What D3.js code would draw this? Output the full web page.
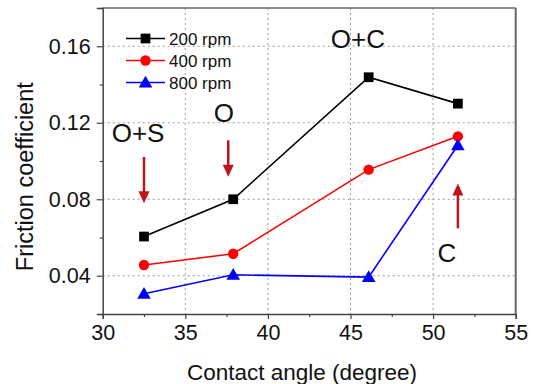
<!DOCTYPE html>
<html>
<head>
<meta charset="utf-8">
<script src="https://cdn.jsdelivr.net/npm/d3@7"></script>
<style>
  html, body { margin: 0; padding: 0; background: #fff; }
  svg { display: block; font-family: "Liberation Sans", Arial, sans-serif; }
</style>
</head>
<body>
<svg id="chart" width="534" height="384"></svg>
<script>
// ---- data ----
const contactAngle = [32.5, 37.9, 46.1, 51.5];
const rpm200 = [0.0605, 0.080, 0.1438, 0.130];
const rpm400 = [0.0456, 0.0515, 0.0955, 0.1129];
const rpm800 = [0.0306, 0.0405, 0.0393, 0.1082];
const seriesNames = ["200 rpm", "400 rpm", "800 rpm"];
const xTicks = [30, 35, 40, 45, 50, 55];
const xMinorTicks = [32.5, 37.5, 42.5, 47.5, 52.5];
const yTicks = [0.04, 0.08, 0.12, 0.16];
const yMinorTicks = [0.02, 0.06, 0.10, 0.14, 0.18];
const annotations = [
  { text: "O+S", x: 32.14, y: 0.1101 },
  { text: "O", x: 37.34, y: 0.1206 },
  { text: "O+C", x: 45.45, y: 0.1589 },
  { text: "C", x: 50.84, y: 0.0473 }
];
const arrows = [
  { x: 32.5, from: 0.1021, to: 0.0779 },
  { x: 37.6, from: 0.1108, to: 0.0917 },
  { x: 51.5, from: 0.0648, to: 0.0883 }
];

// ---- layout ----
const svg = d3.select("#chart");
const margin = { left: 102.7, right: 18.3, top: 8, bottom: 70 };
const W = 534, H = 384;
const x = d3.scaleLinear().domain([30, 55]).range([margin.left, W - margin.right]);
const y = d3.scaleLinear().domain([0.02, 0.18]).range([H - margin.bottom, margin.top]);

const colors = ["#000000", "#ff0000", "#0000ff"];
const seriesData = [rpm200, rpm400, rpm800];
const symbols = [d3.symbolSquare, d3.symbolCircle, d3.symbolTriangle];
const symSizes = [95, 85, 80];

// gridlines
const grid = svg.append("g").attr("stroke", "#9a9a9a").attr("stroke-width", 1).attr("stroke-dasharray", "2,3").attr("fill", "none");
xTicks.slice(1, -1).forEach(t => {
  grid.append("line").attr("x1", x(t)).attr("x2", x(t)).attr("y1", y.range()[1]).attr("y2", y.range()[0]);
});
yTicks.forEach(t => {
  grid.append("line").attr("x1", x.range()[0]).attr("x2", x.range()[1]).attr("y1", y(t)).attr("y2", y(t));
});

// frame top & right
svg.append("line").attr("x1", x.range()[0]).attr("x2", x.range()[1]).attr("y1", y.range()[1]).attr("y2", y.range()[1])
  .attr("stroke", "#666").attr("stroke-width", 1.5);
svg.append("line").attr("x1", x.range()[1]).attr("x2", x.range()[1]).attr("y1", y.range()[1]).attr("y2", y.range()[0])
  .attr("stroke", "#666").attr("stroke-width", 2);

// axes
const xAxis = svg.append("g").attr("transform", `translate(0,${y.range()[0]})`)
  .call(d3.axisBottom(x).tickValues(xTicks).tickSize(5).tickPadding(6).tickFormat(d3.format("d")));
svg.append("g").attr("transform", `translate(0,${y.range()[0]})`)
  .call(d3.axisBottom(x).tickValues(xMinorTicks).tickSize(3).tickFormat(""))
  .call(g => g.select(".domain").remove());
const yAxis = svg.append("g").attr("transform", `translate(${x.range()[0]},0)`)
  .call(d3.axisLeft(y).tickValues(yTicks).tickSize(6).tickPadding(6).tickFormat(d3.format(".2f")));
svg.append("g").attr("transform", `translate(${x.range()[0]},0)`)
  .call(d3.axisLeft(y).tickValues(yMinorTicks).tickSize(3).tickFormat(""))
  .call(g => g.select(".domain").remove());

svg.selectAll(".domain").attr("stroke", "#444").attr("stroke-width", 1.5);
svg.selectAll(".tick line").attr("stroke", "#444").attr("stroke-width", 1.2);
xAxis.selectAll("text").attr("font-size", 21.5).attr("fill", "#111").attr("font-family", "Liberation Sans, Arial, sans-serif");
yAxis.selectAll("text").attr("font-size", 21.5).attr("fill", "#111").attr("font-family", "Liberation Sans, Arial, sans-serif");

// axis titles
svg.append("text").attr("x", 302).attr("y", 379.5)
  .attr("text-anchor", "middle").attr("font-size", 22.5).attr("fill", "#111")
  .text("Contact angle (degree)");
svg.append("text").attr("transform", `translate(33,176.7) rotate(-90)`)
  .attr("text-anchor", "middle").attr("font-size", 23.5).attr("fill", "#111")
  .text("Friction coefficient");

// series
seriesData.forEach((vals, i) => {
  const pts = contactAngle.map((c, j) => [c, vals[j]]);
  svg.append("path").datum(pts)
    .attr("fill", "none").attr("stroke", colors[i]).attr("stroke-width", 1.6)
    .attr("d", d3.line().x(d => x(d[0])).y(d => y(d[1])));
  svg.append("g").selectAll("path").data(pts).join("path")
    .attr("transform", d => `translate(${x(d[0])},${y(d[1]) + (i === 2 ? 1 : 0)})`)
    .attr("d", d3.symbol().type(symbols[i]).size(symSizes[i]))
    .attr("fill", colors[i]);
});

// legend
const legend = svg.append("g");
seriesNames.forEach((name, i) => {
  const ly = 38.5 + i * 22;
  legend.append("line").attr("x1", 126).attr("x2", 165).attr("y1", ly).attr("y2", ly)
    .attr("stroke", colors[i]).attr("stroke-width", 1.6);
  legend.append("path").attr("transform", `translate(145.5,${ly + (i === 2 ? 1 : 0)})`)
    .attr("d", d3.symbol().type(symbols[i]).size(symSizes[i])).attr("fill", colors[i]);
  legend.append("text").attr("x", 169).attr("y", ly + 6).attr("font-size", 17).attr("fill", "#111").text(name);
});

// arrows
const arrowColor = "#c0141c";
const ag = svg.append("g");
arrows.forEach(a => {
  const x0 = x(a.x), y0 = y(a.from), y1 = y(a.to);
  const dir = y1 > y0 ? 1 : -1;
  const headLen = 12, headW = 5.5;
  ag.append("line").attr("x1", x0).attr("x2", x0).attr("y1", y0).attr("y2", y1 - dir * headLen + dir * 1)
    .attr("stroke", arrowColor).attr("stroke-width", 2.5);
  ag.append("path")
    .attr("d", `M${x0 - headW},${y1 - dir * headLen} L${x0 + headW},${y1 - dir * headLen} L${x0},${y1} Z`)
    .attr("fill", arrowColor);
});

// annotation labels
annotations.forEach(a => {
  svg.append("text").attr("x", x(a.x)).attr("y", y(a.y)).attr("text-anchor", "middle")
    .attr("font-size", 26).attr("fill", "#111").text(a.text);
});
</script>
</body>
</html>
